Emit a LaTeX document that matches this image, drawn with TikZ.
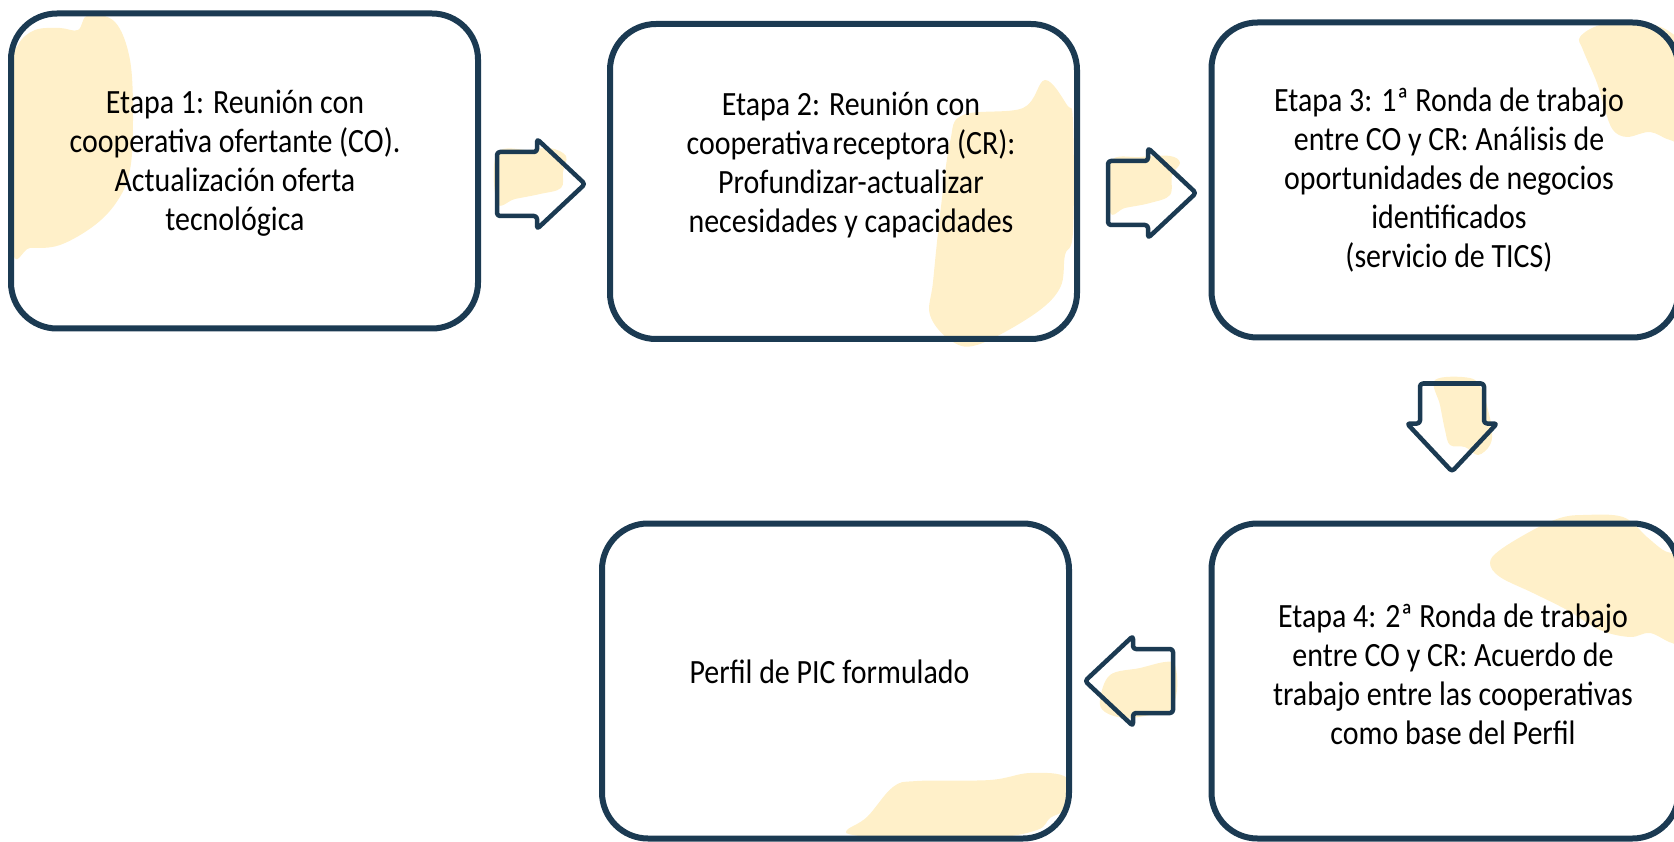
\documentclass[tikz,border=0pt]{standalone}
\usepackage{fontspec}
\setmainfont{Carlito}[FakeStretch=0.88]

\definecolor{azul}{HTML}{1B3A52}
\definecolor{crema}{HTML}{FFF0C9}

\tikzset{
  etapa/.style={draw=azul, line width=6pt, rounded corners=46pt, minimum width=467pt, minimum height=315pt, inner sep=0pt},
  texto/.style={align=center, font=\fontsize{34}{39}\selectfont, inner sep=0pt},
  mancha/.style={fill=crema},
  flecha/.pic={\draw[azul, line width=4.5pt, rounded corners=3pt, line join=round] (-44,-32) -- (-4,-32) -- (-4,-45) -- (44,0) -- (-4,45) -- (-4,32) -- (-44,32) -- cycle;}
}

\begin{document}
\begin{tikzpicture}[x=1pt, y=-1pt]
\useasboundingbox (0,0) rectangle (1674,842);

\coordinate (C1) at (244.5,171);
\coordinate (C2) at (843.5,181.5);
\coordinate (C3) at (1445,180);
\coordinate (C4) at (1445,681);
\coordinate (C5) at (835.5,681);

% manchas
\fill[mancha] plot[smooth cycle, tension=0.6] coordinates {(12,75) (18,45) (35,30) (60,28) (78,30) (88,15) (115,22) (130,60) (133,120) (130,170) (118,200) (95,225) (60,245) (30,248) (12,246)};
\fill[mancha] plot[smooth cycle, tension=0.6] coordinates {(1045,80) (1023,108) (963,115) (950,142) (940,215) (933,282) (930,315) (950,340) (977,345) (1033,315) (1060,288) (1065,255) (1073,232) (1073,122) (1067,105)};
\fill[mancha] plot[smooth cycle, tension=0.6] coordinates {(1580,37) (1600,25) (1633,23) (1667,30) (1690,60) (1690,140) (1670,140) (1650,132) (1627,137) (1613,130) (1605,110) (1597,83) (1583,50)};
\fill[mancha] plot[smooth cycle, tension=0.6] coordinates {(1583,515) (1623,517) (1647,537) (1663,550) (1690,567) (1690,643) (1672,643) (1650,633) (1630,637) (1600,630) (1567,610) (1533,593) (1500,577) (1490,563) (1500,550) (1533,530) (1560,518)};
\fill[mancha] plot[smooth cycle, tension=0.6] coordinates {(847,830) (867,817) (893,787) (917,781) (990,780) (1030,773) (1067,778) (1065,808) (1050,818) (1037,830) (990,838) (890,838) (853,835)};
\fill[mancha] plot[smooth cycle, tension=0.6] coordinates {(497,153) (530,150) (550,148) (566,156) (563,172) (561,188) (540,194) (515,199) (497,203)};
\fill[mancha] plot[smooth cycle, tension=0.6] coordinates {(1110,162) (1140,157) (1170,156) (1180,163) (1172,175) (1170,195) (1150,203) (1125,208) (1110,212)};
\fill[mancha] plot[smooth cycle, tension=0.6] coordinates {(1435,380) (1470,378) (1482,390) (1488,410) (1492,430) (1490,445) (1478,455) (1465,447) (1450,445) (1445,430) (1440,405)};
\fill[mancha] plot[smooth cycle, tension=0.6] coordinates {(1110,675) (1140,668) (1165,662) (1175,665) (1177,690) (1170,710) (1150,715) (1125,718) (1105,712) (1100,700)};

\node[etapa] (b1) at (C1) {};
\node[etapa] (b2) at (C2) {};
\node[etapa] (b3) at (C3) {};
\node[etapa] (b4) at (C4) {};
\node[etapa] (b5) at (C5) {};

\pic at (541,184) {flecha};
\pic at (1152,193) {flecha};
\pic[rotate=-90] at (1452,427.5) {flecha};
\pic[rotate=180] at (1129,681) {flecha};

\node[texto] (t1) at (235,163) {Etapa 1: Reunión con\\cooperativa ofertante (CO).\\Actualización oferta\\tecnológica};
\node[texto] (t2) at (851,165.5) {Etapa 2: Reunión con\\cooperativa\hspace{0.1em}receptora (CR):\\Profundizar-actualizar\\necesidades y capacidades};
\node[texto] (t3) at (1449,180.5) {Etapa 3: 1ª Ronda de trabajo\\entre CO y CR: Análisis de\\oportunidades de negocios\\identificados\\(servicio de TICS)};
\node[texto] (t4) at (1453,674) {Etapa 4: 2ª Ronda de trabajo\\entre CO y CR: Acuerdo de\\trabajo entre las cooperativas\\como base del Perfil};
\node[texto, anchor=base] (t5) at (829.5,683) {Perfil de PIC formulado};
\end{tikzpicture}
\end{document}
